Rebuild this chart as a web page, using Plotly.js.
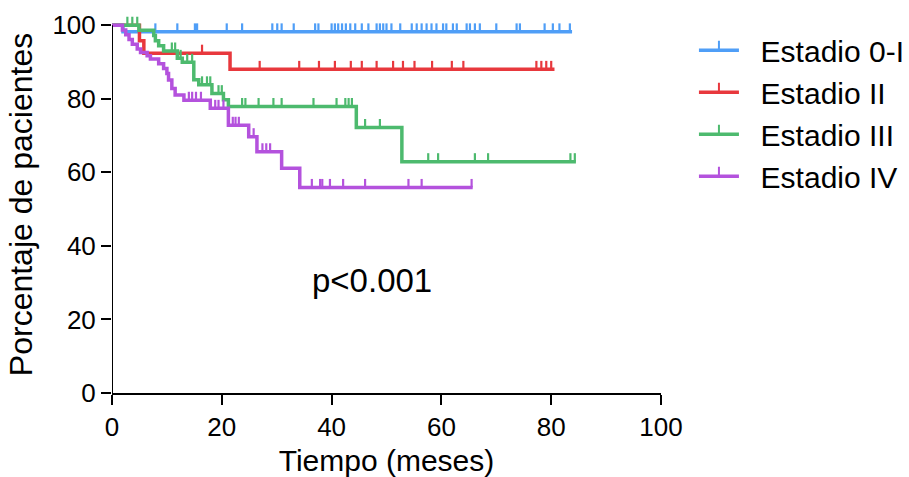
<!DOCTYPE html>
<html>
<head>
<meta charset="utf-8">
<script src="https://cdn.plot.ly/plotly-3.0.1.min.js"></script>
<style>html,body{margin:0;padding:0;background:#fff}#chart{width:909px;height:477px}</style>
</head>
<body>
<div id="chart"></div>
<script>
const stageNames = ['Estadio 0-I', 'Estadio II', 'Estadio III', 'Estadio IV'];
const stageColors = ['#4f9ef7', '#e8383d', '#4dba6e', '#b452dd'];

const blueTime = [0, 2.0, 83.8];
const blueSurv = [100, 98.2, 98.2];
const blueCensor = [7.9, 11.9, 15.1, 15.5, 20.9, 23.7, 29.2, 30.1, 30.9, 33.1, 37.0, 37.6, 40.0, 40.6, 41.2, 41.9, 42.6, 43.4, 44.3, 45.5, 46.7, 48.2, 48.8, 49.4, 50.0, 50.9, 52.5, 54.6, 55.5, 56.4, 57.3, 58.2, 59.1, 60.3, 60.9, 62.1, 62.8, 64.6, 65.2, 66.1, 67.0, 70.0, 73.7, 74.3, 78.8, 80.3, 81.5, 83.4];

const redTime = [0, 5.0, 5.8, 21.5, 80.6];
const redSurv = [100, 95.8, 92.4, 88.0, 88.0];
const redCensor = [16.4, 26.9, 34.1, 37.7, 40.6, 43.5, 45.5, 48.2, 51.2, 53.0, 55.1, 58.3, 61.9, 64.0, 77.3, 78.2, 79.1, 80.0];

const greenTime = [0, 4.9, 7.6, 7.9, 8.5, 9.4, 11.9, 12.8, 14.9, 15.8, 18.2, 20.3, 21.2, 44.5, 52.8, 84.5];
const greenSurv = [100, 98.6, 97.2, 95.8, 94.4, 93.0, 91.0, 89.9, 85.2, 83.8, 81.4, 79.7, 77.9, 72.2, 62.9, 62.9];
const greenCensor = [2.8, 3.7, 4.6, 10.9, 11.5, 12.5, 13.7, 14.6, 16.4, 17.3, 17.9, 19.4, 20.0, 23.7, 24.3, 26.7, 29.4, 30.9, 36.7, 40.9, 42.5, 43.1, 43.7, 46.1, 48.8, 57.6, 59.4, 66.1, 68.5, 83.5, 84.3];

const purpleTime = [0, 1.9, 2.5, 3.1, 3.7, 4.6, 5.2, 6.4, 7.0, 8.5, 9.4, 10.0, 10.3, 10.9, 11.5, 13.1, 17.9, 21.2, 24.9, 26.4, 30.9, 34.2, 65.7];
const purpleSurv = [100, 98.7, 97.4, 96.1, 94.8, 93.5, 92.6, 91.7, 90.8, 89.5, 88.2, 86.9, 85.1, 82.8, 81.0, 79.6, 77.4, 72.8, 69.7, 65.6, 61.1, 55.9, 55.9];
const purpleCensor = [14.0, 14.6, 15.3, 16.2, 18.8, 19.4, 20.3, 22.0, 22.5, 23.1, 25.8, 27.4, 28.1, 28.8, 36.4, 37.9, 38.3, 39.7, 42.1, 46.1, 54.0, 56.4, 65.5];

const xTicks = [0, 20, 40, 60, 80, 100];
const yTicks = [0, 20, 40, 60, 80, 100];
const pLabel = 'p<0.001';

const groups = [
  [blueTime, blueSurv, blueCensor],
  [redTime, redSurv, redCensor],
  [greenTime, greenSurv, greenCensor],
  [purpleTime, purpleSurv, purpleCensor]
];

function survAt(times, surv, t) {
  let v = surv[0];
  for (let i = 0; i < times.length; i++) { if (times[i] <= t) v = surv[i]; }
  return v;
}

const FONT = 'Liberation Sans, Arial, Helvetica, sans-serif';
const GAP = '\u00a0\u00a0';
const traces = [];
groups.forEach((g, i) => {
  const [times, surv, cens] = g;
  traces.push({
    type: 'scatter', mode: 'lines', x: times, y: surv,
    line: {shape: 'hv', color: stageColors[i], width: 3.5},
    showlegend: false, hoverinfo: 'skip'
  });
  traces.push({
    type: 'scatter', mode: 'markers', x: cens, y: cens.map(t => survAt(times, surv, t)),
    marker: {color: stageColors[i], size: 4, opacity: 0},
    error_y: {type: 'constant', value: 2.3, valueminus: 0, symmetric: false, width: 0, thickness: 2.2, color: stageColors[i]},
    showlegend: false, hoverinfo: 'skip'
  });
});
stageNames.forEach((name, i) => {
  traces.push({
    type: 'scatter', mode: 'lines+markers', x: [null], y: [null], name: GAP + name,
    line: {color: stageColors[i], width: 3.5},
    marker: {symbol: 'line-ns-open', size: 8, color: stageColors[i], line: {color: stageColors[i], width: 2}, standoff: 4},
    hoverinfo: 'skip'
  });
});

const layout = {
  width: 909, height: 477,
  margin: {l: 111.5, r: 247.5, t: 15.8, b: 83.7, autoexpand: false},
  paper_bgcolor: '#fff', plot_bgcolor: '#fff',
  font: {family: FONT, color: '#000', size: 26},
  showlegend: true,
  legend: {x: 1.06, xanchor: 'left', y: 0.978, yanchor: 'top', font: {family: FONT, size: 30, color: '#000'},
           itemwidth: 40, tracegroupgap: 0, bgcolor: 'rgba(0,0,0,0)'},
  xaxis: {range: [0, 100], tickvals: xTicks, ticktext: xTicks.map(String), showgrid: false, zeroline: false,
          showline: true, linecolor: '#000', linewidth: 2, ticks: 'outside', ticklen: 10, tickwidth: 2, tickcolor: '#000',
          tickfont: {family: FONT, size: 26, color: '#000'},
          title: {text: 'Tiempo (meses)', font: {family: FONT, size: 30, color: '#000'}, standoff: 10}},
  yaxis: {range: [0, 102.5], tickvals: yTicks, ticktext: yTicks.map(String), showgrid: false, zeroline: false,
          showline: false, ticks: 'outside', ticklen: 10, tickwidth: 2, tickcolor: '#000',
          tickfont: {family: FONT, size: 26, color: '#000'},
          title: {text: 'Porcentaje de pacientes', font: {family: FONT, size: 32, color: '#000'}, standoff: 10}},
  shapes: [{type: 'line', xref: 'x', yref: 'y', x0: 0, x1: 0, y0: 0, y1: 100, line: {color: '#000', width: 2}}],
  annotations: [{xref: 'x', yref: 'y', x: 47.4, y: 30.7, text: pLabel, showarrow: false,
                 font: {family: FONT, size: 33, color: '#000'}}]
};

Plotly.newPlot('chart', traces, layout, {displayModeBar: false, staticPlot: true});
</script>
</body>
</html>
